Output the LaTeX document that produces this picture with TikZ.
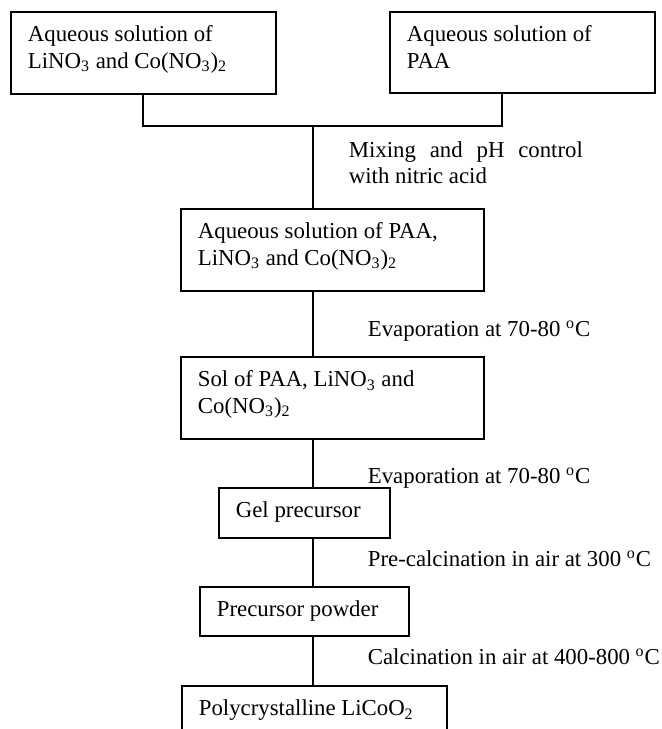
\documentclass[tikz,border=0pt]{standalone}
\usepackage{fontspec}
\setmainfont{Liberation Serif}
\usepackage{tikz}
\usetikzlibrary{calc,positioning}

\begin{document}
\begin{tikzpicture}[x=0.5pt,y=-0.5pt,line width=0.9pt,
        font=\fontsize{11.4pt}{13.3pt}\selectfont,
        stepbox/.style={draw, anchor=north west, align=flush left, inner xsep=8.5pt, inner ysep=0pt, text height=15pt},
        steplabel/.style={anchor=base west, inner sep=0pt}]
        \useasboundingbox (0,0) rectangle (661,729);
        \clip (0,0) rectangle (661,729);

        \coordinate (lino) at (10,11);
        \coordinate (paa) at (389,11);
        \coordinate (mix) at (180,208);
        \coordinate (sol) at (180,356);
        \coordinate (gel) at (218,487);
        \coordinate (powder) at (199,586);
        \coordinate (licoo) at (181,685);
        \coordinate (joinL) at (143,126);
        \coordinate (joinR) at (502,126);
        \coordinate (join) at (313,126);

        \node[stepbox, text width=115.5pt, text depth=26pt] (Lino) at (lino) {Aqueous solution of\\LiNO\textsubscript{3} and Co(NO\textsubscript{3})\textsubscript{2}};
        \node[stepbox, text width=115.5pt, text depth=25.5pt] (Paa) at (paa) {Aqueous solution of\\PAA};
        \node[stepbox, text width=134.5pt, text depth=26pt] (Mix) at (mix) {Aqueous solution of PAA,\\LiNO\textsubscript{3} and Co(NO\textsubscript{3})\textsubscript{2}};
        \node[stepbox, text width=134.5pt, text depth=26pt] (Sol) at (sol) {Sol of PAA, LiNO\textsubscript{3} and\\Co(NO\textsubscript{3})\textsubscript{2}};
        \node[stepbox, text width=68.5pt, text depth=10pt] (Gel) at (gel) {Gel precursor};
        \node[stepbox, text width=87.5pt, text depth=9.5pt] (Powder) at (powder) {Precursor powder};
        \node[stepbox, text width=115.5pt, text depth=20pt] (Licoo) at (licoo) {Polycrystalline LiCoO\textsubscript{2}};

        \node[steplabel, text width=117pt, align=flush left] (MixLabel) at (348,157) {Mixing\hfill and\hfill pH\hfill control\\with nitric acid};
        \node[steplabel] (EvapLabel) at (367,336) {Evaporation at 70-80 \textsuperscript{o}C};
        \node[steplabel] (GelLabel) at (367,483) {Evaporation at 70-80 \textsuperscript{o}C};
        \node[steplabel] (PreLabel) at (367,566) {Pre-calcination in air at 300 \textsuperscript{o}C};
        \node[steplabel] (CalLabel) at (367,664) {Calcination in air at 400-800 \textsuperscript{o}C};

        \draw (Lino.south -| joinL) -- (joinL) -- (joinR) -- (Paa.south -| joinR);
        \draw (join) -- (Mix.north -| join);
        \foreach \a/\b in {Mix/Sol,Sol/Gel,Gel/Powder,Powder/Licoo}
            \draw (\a.south -| join) -- (\b.north -| join);
    \end{tikzpicture}
\end{document}
